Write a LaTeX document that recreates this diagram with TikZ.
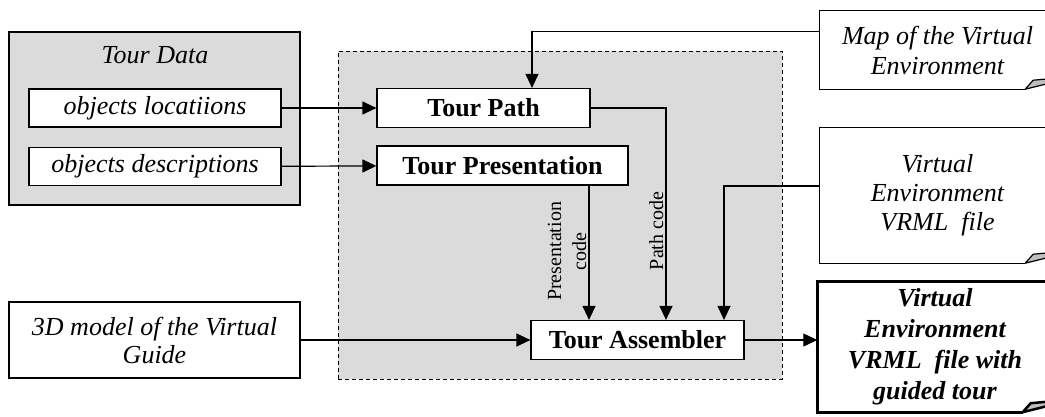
\documentclass[tikz,border=0pt]{standalone}
\usepackage{fontspec}
\setmainfont{Liberation Serif}
\usetikzlibrary{positioning, arrows.meta, backgrounds}
\tikzstyle{data} = [rectangle, draw, line width=1.2pt, fill=white, minimum width=252pt, minimum height=38pt, inner sep=0pt, font=\fontsize{26}{28}\selectfont\itshape]
\tikzstyle{process} = [rectangle, draw, line width=1.2pt, fill=white, minimum height=39pt, inner sep=0pt, font=\fontsize{26}{29}\selectfont\bfseries]
\tikzstyle{docbox} = [rectangle, minimum width=235pt, inner sep=0pt, align=center, font=\fontsize{26}{30}\selectfont\itshape]
\tikzstyle{groupbox} = [rectangle, draw, line width=1.2pt, fill=black!14, inner sep=0pt]
\tikzstyle{stagebox} = [rectangle, draw, line width=0.8pt, dash pattern=on 4pt off 3pt, fill=black!14, inner sep=0pt]
\tikzstyle{arrow} = [line width=1.2pt, -{Triangle[length=14pt, width=13pt]}]
\tikzstyle{codelabel} = [rotate=90, font=\fontsize{20}{25}\selectfont, align=center, inner sep=2pt]
\newcommand{\pagefold}[2][]{%
  \draw[line width=1.2pt, fill=black!25, line join=round, #1] ([xshift=-30pt]#2.south east) -- ([xshift=-22pt, yshift=9pt]#2.south east) -- ([yshift=11pt]#2.south east) -- ([yshift=7.5pt]#2.south east) -- cycle;}
\begin{document}
\begin{tikzpicture}[x=1pt, y=-1pt]
  \useasboundingbox (0,0) rectangle (1045,416);
  \clip (0,0) rectangle (1045,416);

  % Tour data (left side)
  \node (tdtitle) [font=\fontsize{26}{28}\selectfont\itshape] at (155,55) {Tour Data};
  \node (objloc) [data] at (155,108) {objects locatiions};
  \node (objdesc) [data, below=19.5pt of objloc] {objects descriptions};
  \node (guide) [data, minimum width=291pt, minimum height=76pt, align=center] at (154.5,340) {3D model of the Virtual\\ Guide};

  % Processing steps (dashed area)
  \node (tourpath) [process, minimum width=213pt] at (483.5,108) {Tour Path};
  \node (tourpres) [process, minimum width=251pt] at (502.5,165.5) {Tour Presentation};
  \node (assembler) [process, minimum width=213pt] at (637.5,340) {Tour Assembler};

  % Documents (right side)
  \node (map) [docbox, minimum height=78pt] at (937.5,50) {Map of the Virtual\\ Environment};
  \node (vrml) [docbox, minimum height=135pt, font=\fontsize{26}{29}\selectfont\itshape] at (937.5,195.5) {Virtual\\ Environment\\ VRML\ \ file};
  \node (output) [docbox, minimum height=130pt, font=\fontsize{26}{31}\selectfont\bfseries\itshape] at (935,347) {Virtual\\ Environment\\ VRML\ \ file with\\ guided tour};

  \draw[line width=1.2pt] (map.north east) -- (map.north west) -- (map.south west) -- ([xshift=-30pt]map.south east);
  \pagefold{map}
  \draw[line width=1.2pt] (vrml.north east) -- (vrml.north west) -- (vrml.south west) -- ([xshift=-30pt]vrml.south east);
  \pagefold{vrml}
  \draw[line width=3pt] (output.north east) -- (output.north west) -- (output.south west) -- ([xshift=-30pt]output.south east);
  \pagefold[line width=2.5pt]{output}

  % Arrows
  \draw[arrow] (objloc) -- (tourpath);
  \draw[arrow] (objdesc) -- (tourpres);
  \draw[arrow] ([yshift=-21pt]map.north west) -| ([xshift=48.5pt]tourpath.north);
  \draw[arrow] (tourpath.east) -| node[codelabel, pos=0.79, anchor=south] {Path code} ([xshift=28.5pt]assembler.north);
  \coordinate (presout) at ([xshift=86.5pt]tourpres.south);
  \draw[arrow] (presout) -- node[codelabel, pos=0.49, anchor=south] {Presentation\\ code} (presout |- assembler.north);
  \draw[arrow] ([yshift=9.5pt]vrml.west) -| ([xshift=86.5pt]assembler.north);
  \draw[arrow] (guide) -- (assembler);
  \draw[arrow] (assembler.east) -- (assembler.east -| output.west);

  % Section boxes
  \begin{scope}[on background layer]
    \node (tourdata) [groupbox, minimum width=291pt, minimum height=173pt] at (154.5,118.5) {};
    \node (stage) [stagebox, minimum width=444pt, minimum height=328pt] at (560,215) {};
  \end{scope}

\end{tikzpicture}
\end{document}
